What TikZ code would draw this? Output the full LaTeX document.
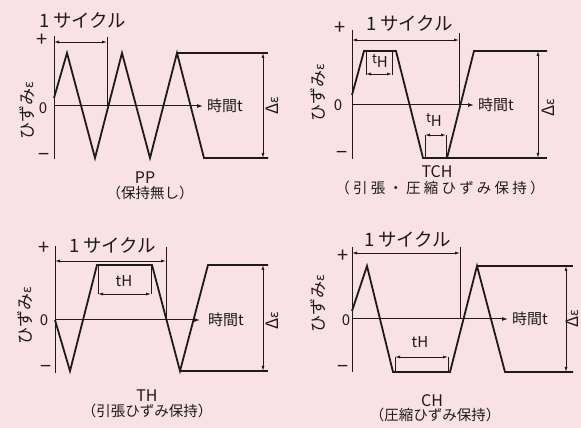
\documentclass[tikz,border=0pt]{standalone}
\usepackage{fontspec}
\setmainfont{Noto Sans CJK JP}
\usetikzlibrary{arrows.meta, positioning}
\definecolor{bgpink}{RGB}{248,226,229}
\definecolor{ink}{RGB}{30,26,26}
\tikzset{
  wave/.style={ink, line width=1.8pt, line join=miter},
  axline/.style={ink, line width=1pt},
  tarrow/.style={ink, line width=1pt, -{Latex[length=6pt,width=4pt]}},
  dimarr/.style={ink, line width=0.8pt, {Latex[length=5pt,width=3pt]}-{Latex[length=5pt,width=3pt]}},
  cyclbl/.style={ink, font=\fontsize{18.5}{18.5}\selectfont, inner sep=0pt},
  ylbl/.style={ink, rotate=90, font=\fontsize{17}{17}\selectfont, inner sep=0pt},
  dlbl/.style={ink, rotate=90, font=\fontsize{17}{17}\selectfont, inner sep=0pt},
  tlbl/.style={ink, font=\fontsize{15}{15}\selectfont, inner sep=0pt, anchor=west},
  signlbl/.style={ink, font=\fontsize{20}{20}\selectfont, inner sep=0pt},
  zerolbl/.style={ink, font=\fontsize{15}{15}\selectfont, inner sep=0pt},
  caplbl/.style={ink, font=\fontsize{14.5}{14.5}\selectfont, inner sep=0pt},
  namelbl/.style={ink, font=\fontsize{16}{16}\selectfont, inner sep=0pt},
  holdlbl/.style={ink, font=\fontsize{15}{15}\selectfont, inner sep=0pt},
}
\newcommand{\eps}{{\fontsize{13}{13}\selectfont ε}}
\newcommand{\tsubH}{{\fontsize{13}{13}\selectfont t}\raisebox{-3.5pt}{H}}

\begin{document}
\begin{tikzpicture}[x=1pt, y=1pt]
  \fill[bgpink] (0,0) rectangle (581,428);
  \useasboundingbox (0,0) rectangle (581,428);

  % PP
  \begin{scope}[shift={(54,322)}]
    \draw[axline] (0,70) -- (0,-53);
    \draw[tarrow] (0,0) -- (149,0);
    \node[tlbl] (t1) at (153,0) {時間t};
    \node[signlbl] (p1) at (-12,66) {+};
    \node[zerolbl] (z1) at (-11,-2) {0};
    \node[signlbl] (m1) at (-10,-51) {−};
    \node[ylbl] (e1) at (-27,-5) {ひずみ\eps};
    \draw[wave] (0,8) -- (13,53) -- (41,-52) -- (68,53) -- (96,-52) -- (123,53) -- (150,-52) -- (214,-52);
    \draw[wave] (123,53) -- (214,53);
    % 1 cycle
    \draw[axline] (53,69) -- (53,0);
    \draw[dimarr] (0,64) -- (53,64);
    \node[cyclbl] (c1) at (29,86) {1\,サイクル};
    % delta eps
    \draw[dimarr] (209,53) -- (209,-52);
    \node[dlbl] (d1) at (218,0) {Δ\eps};
    \node[namelbl] (n1) at (91,-72) {PP};
    \node[caplbl] (n1b) at (96,-87) {（保持無し）};
  \end{scope}

  % TCH
  \begin{scope}[shift={(352,323)}]
    \draw[axline] (0,75) -- (0,-54);
    \draw[tarrow] (0,0) -- (122,0);
    \node[tlbl] (t2) at (126,0) {時間t};
    \node[signlbl] (p2) at (-12,77) {+};
    \node[zerolbl] (z2) at (-14,0) {0};
    \node[signlbl] (m2) at (-10,-50) {−};
    \node[ylbl] (e2) at (-34,12) {ひずみ\eps};
    \draw[wave] (0,10) -- (12,54) -- (44,54) -- (71,-53) -- (95,-53) -- (122,54) -- (195,54);
    \draw[wave] (95,-53) -- (195,-53);
    % hold times
    \draw[axline] (14,54) -- (14,30);
    \draw[axline] (40,54) -- (40,30);
    \draw[dimarr] (14,31) -- (40,31);
    \node[holdlbl] (h2a) at (28,44) {\tsubH};
    \draw[axline] (73,-53) -- (73,-30);
    \draw[axline] (94,-53) -- (94,-30);
    \draw[dimarr] (73,-30) -- (94,-30);
    \node[holdlbl] (h2b) at (82,-15) {\tsubH};
    % 1 cycle
    \draw[axline] (107,72) -- (107,0);
    \draw[dimarr] (0,65) -- (107,65);
    \node[cyclbl] (c2) at (58,82) {1\,サイクル};
    % delta eps
    \draw[dimarr] (186,54) -- (186,-53);
    \node[dlbl] (d2) at (196,-3) {Δ\eps};
    \node[namelbl] (n2) at (85,-67) {TCH};
    \node[caplbl] (n2b) at (88,-83) {\addfontfeature{LetterSpace=22}（引張・圧縮ひずみ保持）};
  \end{scope}

  % TH
  \begin{scope}[shift={(55,108)}]
    \draw[axline] (0,74) -- (0,-53);
    \draw[tarrow] (0,0) -- (145,0);
    \node[tlbl] (t3) at (153,0) {時間t};
    \node[signlbl] (p3) at (-11,72) {+};
    \node[zerolbl] (z3) at (-11,0) {0};
    \node[signlbl] (m3) at (-9,-49) {−};
    \node[ylbl] (e3) at (-30,4) {ひずみ\eps};
    \draw[wave] (0,0) -- (15,-51) -- (42,55) -- (97,55) -- (125,-51) -- (153,55) -- (213,55);
    \draw[wave] (125,-51) -- (213,-51);
    % hold time
    \draw[axline] (43,55) -- (43,26);
    \draw[axline] (96,55) -- (96,26);
    \draw[dimarr] (43,26) -- (96,26);
    \node[holdlbl] (h3) at (69,39) {tH};
    % 1 cycle
    \draw[axline] (111,73) -- (111,0);
    \draw[dimarr] (0,59) -- (111,59);
    \node[cyclbl] (c3) at (58,75) {1\,サイクル};
    % delta eps
    \draw[dimarr] (208,55) -- (208,-51);
    \node[dlbl] (d3) at (217,-1) {Δ\eps};
    \node[namelbl] (n3) at (92,-76) {TH};
    \node[caplbl] (n3b) at (92,-91) {（引張ひずみ保持）};
  \end{scope}

  % CH
  \begin{scope}[shift={(352,109)}]
    \draw[axline] (0,72) -- (0,-53);
    \draw[tarrow] (0,0) -- (156,0);
    \node[tlbl] (t4) at (160,0) {時間t};
    \node[signlbl] (p4) at (-9,63) {+};
    \node[zerolbl] (z4) at (-6,-1) {0};
    \node[signlbl] (m4) at (-9,-50) {−};
    \node[ylbl] (e4) at (-34,15) {ひずみ\eps};
    \draw[wave] (0,8) -- (15,53) -- (41,-53) -- (98,-53) -- (125,53) -- (153,-53) -- (221,-53);
    \draw[wave] (125,53) -- (221,53);
    % hold time
    \draw[axline] (43,-53) -- (43,-38);
    \draw[axline] (96,-53) -- (96,-38);
    \draw[dimarr] (43,-38) -- (96,-38);
    \node[holdlbl] (h4) at (68,-23) {tH};
    % 1 cycle
    \draw[axline] (108,72) -- (108,0);
    \draw[dimarr] (0,66) -- (108,66);
    \node[cyclbl] (c4) at (56,80) {1\,サイクル};
    % delta eps
    \draw[dimarr] (214,53) -- (214,-53);
    \node[dlbl] (d4) at (220,0) {Δ\eps};
    \node[namelbl] (n4) at (80,-82) {CH};
    \node[caplbl] (n4b) at (83,-96) {（圧縮ひずみ保持）};
  \end{scope}
\end{tikzpicture}
\end{document}
